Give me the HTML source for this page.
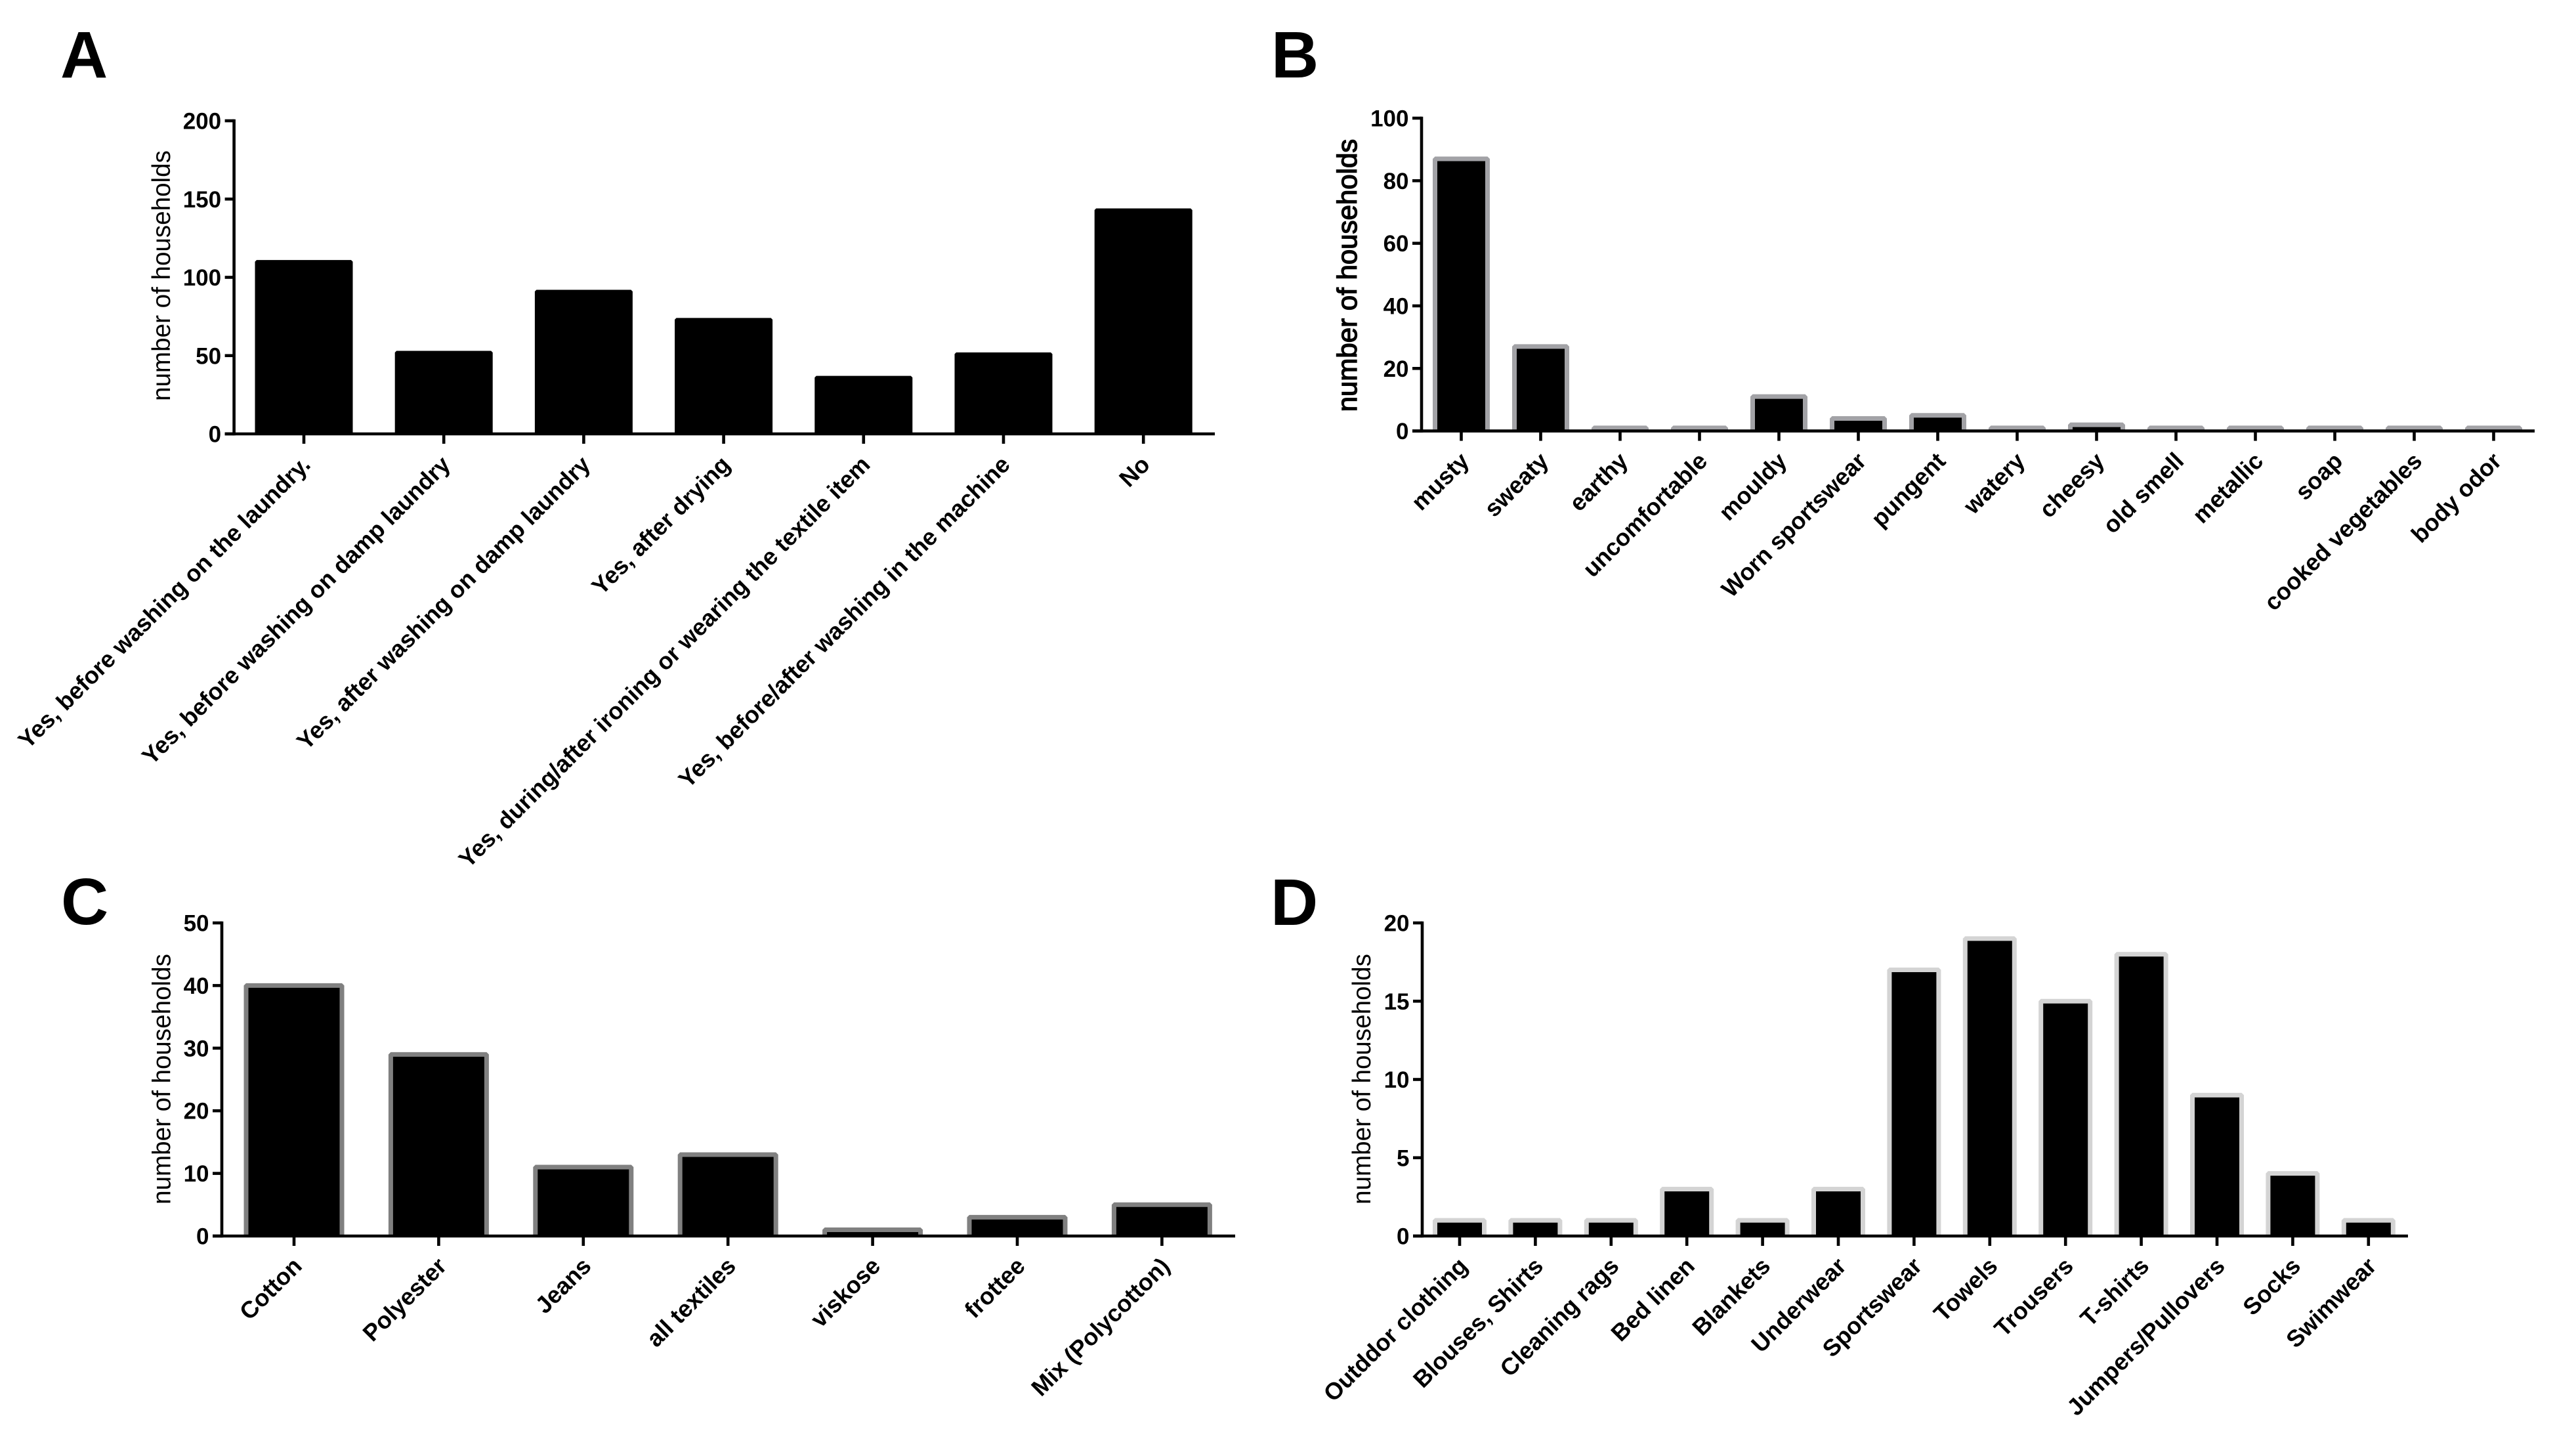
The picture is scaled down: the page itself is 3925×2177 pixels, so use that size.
<!DOCTYPE html>
<html lang="en">
<head>
<meta charset="utf-8">
<title>Malodour survey bar charts</title>
<style>
html,body{margin:0;padding:0;background:#fff;}
svg{display:block;}
text{font-family:"Liberation Sans",Arial,sans-serif;fill:#000;}
.letter{font-size:100px;font-weight:700;}
.num{font-size:35px;font-weight:700;text-anchor:end;}
.cat{font-size:36px;font-weight:700;text-anchor:end;}
.ylab{font-size:38.6px;text-anchor:middle;}
</style>
</head>
<body>
<svg id="figure" xmlns="http://www.w3.org/2000/svg" width="3925" height="2177" viewBox="0 0 3925 2177">
  <rect width="3925" height="2177" fill="#fff"/>
  <text class="letter" x="92" y="118">A</text>
  <text class="letter" x="1937" y="118">B</text>
  <text class="letter" x="93" y="1408">C</text>
  <text class="letter" x="1936" y="1409">D</text>
</svg>
<script>
const aCategories = ["Yes, before washing on the laundry.", "Yes, before washing on damp laundry", "Yes, after washing on damp laundry", "Yes, after drying", "Yes, during/after ironing or wearing the textile item", "Yes, before/after washing in the machine", "No"];
const aValues = [110, 52, 91, 73, 36, 51, 143];
const aTicks = [0, 50, 100, 150, 200];

const bCategories = ["musty", "sweaty", "earthy", "uncomfortable", "mouldy", "Worn sportswear", "pungent", "watery", "cheesy", "old smell", "metallic", "soap", "cooked vegetables", "body odor"];
const bValues = [87, 27, 1, 1, 11, 4, 5, 1, 2, 1, 1, 1, 1, 1];
const bTicks = [0, 20, 40, 60, 80, 100];

const cCategories = ["Cotton", "Polyester", "Jeans", "all textiles", "viskose", "frottee", "Mix (Polycotton)"];
const cValues = [40, 29, 11, 13, 1, 3, 5];
const cTicks = [0, 10, 20, 30, 40, 50];

const dCategories = ["Outddor clothing", "Blouses, Shirts", "Cleaning rags", "Bed linen", "Blankets", "Underwear", "Sportswear", "Towels", "Trousers", "T-shirts", "Jumpers/Pullovers", "Socks", "Swimwear"];
const dValues = [1, 1, 1, 3, 1, 3, 17, 19, 15, 18, 9, 4, 1];
const dTicks = [0, 5, 10, 15, 20];

const NS = "http://www.w3.org/2000/svg";
const svg = document.getElementById("figure");

function make(parent, tag, attrs) {
  const el = document.createElementNS(NS, tag);
  for (const k in attrs) el.setAttribute(k, attrs[k]);
  parent.appendChild(el);
  return el;
}

function drawPanel(p, categories, values, ticks) {
  const g = make(svg, "g", {});
  
  

  const yMax = ticks[ticks.length - 1];
  const yScale = v => p.y0 - (v / yMax) * (p.y0 - p.yTop);
  const xScale = i => p.x0 + i * p.step;

  categories.forEach((name, i) => {
    const cx = xScale(i);
    const top = yScale(values[i]);
    const half = p.barW / 2;
    const bar = make(g, "path", {
      d: `M${cx - half} ${p.y0}L${cx - half} ${top}L${cx + half} ${top}L${cx + half} ${p.y0}`,
      fill: "#000", stroke: p.edge, "stroke-width": p.edgeW, "stroke-linejoin": "bevel"
    });
    
    

    const tick = make(g, "line", {x1: cx, x2: cx, y1: p.y0, y2: p.y0 + 15, stroke: "#000", "stroke-width": 4.6});
    
    

    const ax = cx + p.labelDx, ay = p.y0 + p.labelDy;
    const label = make(g, "text", {class: "cat", x: ax, y: ay, transform: `rotate(-45 ${ax} ${ay})`});
    label.textContent = name;
    
    
  });

  ticks.forEach(t => {
    const y = yScale(t);
    const tick = make(g, "line", {x1: p.axisX - 14, x2: p.axisX, y1: y, y2: y, stroke: "#000", "stroke-width": 4.6});
    
    

    const label = make(g, "text", {class: "num", x: p.axisX - 19.5, y: y + 12.5});
    label.textContent = String(t);
    
    
  });

  const yAxis = make(g, "line", {x1: p.axisX, x2: p.axisX, y1: p.yTop - 2.3, y2: p.y0 + 2.3, stroke: "#000", "stroke-width": 4.6});
  
  

  const xAxis = make(g, "line", {x1: p.axisX - 14, x2: p.xEnd, y1: p.y0, y2: p.y0, stroke: "#000", "stroke-width": 4.6});
  
  

  const title = make(g, "text", {
    class: "ylab", x: p.titleX, y: p.titleY,
    transform: `rotate(-90 ${p.titleX} ${p.titleY})`
  });
  title.textContent = "number of households";
  
  
  if (p.titleBold) {
    title.style.fontSize = "42px";
    title.style.stroke = "#000";
    title.style.strokeWidth = "1.4px";
  }
}

drawPanel({id: "panel-a", axisX: 356.6, y0: 661, yTop: 184, x0: 463, step: 213.2, xEnd: 1851, barW: 144, edge: "#000", edgeW: 5, labelDx: 12, labelDy: 49, titleX: 259, titleY: 420}, aCategories, aValues, aTicks);
drawPanel({id: "panel-b", axisX: 2166, y0: 656.6, yTop: 180, x0: 2226.5, step: 121, xEnd: 3862, barW: 80, edge: "#a2a2a6", edgeW: 7, labelDx: 14, labelDy: 48, titleX: 2067, titleY: 419.5, titleBold: true}, bCategories, bValues, bTicks);
drawPanel({id: "panel-c", axisX: 338, y0: 1883, yTop: 1406, x0: 448, step: 220.4, xEnd: 1882, barW: 146, edge: "#808080", edgeW: 7, labelDx: 14, labelDy: 48, titleX: 259.5, titleY: 1644}, cCategories, cValues, cTicks);
drawPanel({id: "panel-d", axisX: 2167, y0: 1883, yTop: 1406, x0: 2224, step: 115.4, xEnd: 3669, barW: 75, edge: "#d4d4d4", edgeW: 7, labelDx: 14, labelDy: 48, titleX: 2088, titleY: 1644}, dCategories, dValues, dTicks);
</script>
</body>
</html>
